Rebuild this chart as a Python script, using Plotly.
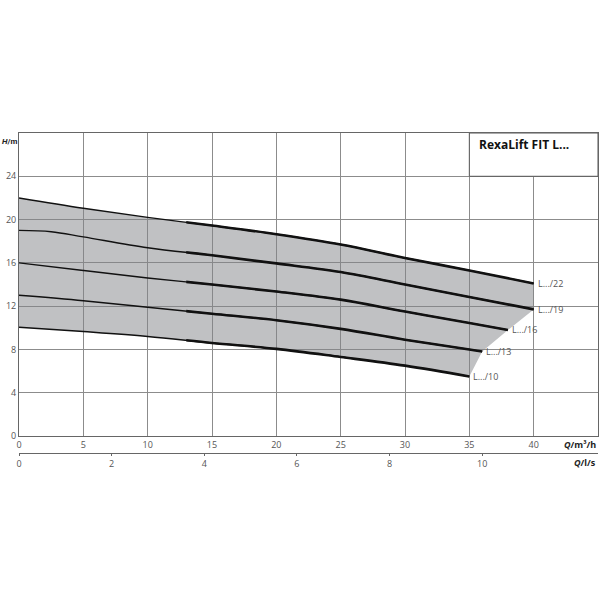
import plotly.graph_objects as go

# pump curves: Q in m3/h, H in m
q22 = [0, 5, 10, 15, 20, 25, 30, 35, 40]
h22 = [22.0, 21.05, 20.2, 19.45, 18.65, 17.7, 16.45, 15.3, 14.1]
q19 = [0, 2.5, 5, 10, 15, 20, 25, 30, 35, 40]
h19 = [19.0, 18.88, 18.4, 17.4, 16.7, 15.95, 15.15, 14.0, 12.85, 11.7]
q16 = [0, 5, 10, 15, 20, 25, 30, 35, 38]
h16 = [16.0, 15.3, 14.6, 14.0, 13.35, 12.6, 11.5, 10.45, 9.8]
q13 = [0, 5, 10, 15, 20, 25, 30, 35, 36]
h13 = [13.0, 12.5, 11.9, 11.3, 10.7, 9.9, 8.9, 8.0, 7.8]
q10 = [0, 5, 10, 15, 20, 25, 30, 35]
h10 = [10.05, 9.65, 9.2, 8.6, 8.05, 7.3, 6.5, 5.5]

curves = [("L.../22", q22, h22), ("L.../19", q19, h19), ("L.../16", q16, h16),
          ("L.../13", q13, h13), ("L.../10", q10, h10)]

x_ticks = [0, 5, 10, 15, 20, 25, 30, 35, 40]
y_ticks = [0, 4, 8, 12, 16, 20, 24]
ls_ticks = [0, 2, 4, 6, 8, 10]
title = "RexaLift FIT L..."
Q_MAX, H_MAX = 45, 28
THICK_FROM = 13  # start of the bold (preferred) part of every curve

TXT = "#555555"
GRID = "#8c8c8c"
FONT = "Open Sans, DejaVu Sans, sans-serif"

fig = go.Figure()

# grey operating field: top curve, right envelope through curve ends, bottom curve back.
# semi-transparent so the grid stays visible through it, as in the original
env_q = q22 + [c[1][-1] for c in curves[1:]] + q10[::-1][1:]
env_h = h22 + [c[2][-1] for c in curves[1:]] + h10[::-1][1:]
fig.add_trace(go.Scatter(x=env_q, y=env_h, mode="lines", fill="toself",
                         fillcolor="rgba(130,132,136,0.5)", line=dict(width=0), hoverinfo="skip",
                         showlegend=False))

for name, q, h in curves:
    # thin over the whole range
    fig.add_trace(go.Scatter(x=q, y=h, mode="lines", line=dict(color="#111111", width=1.4, shape="spline"),
                             hoverinfo="skip", showlegend=False))
    # bold part, clipped by a hidden subplot whose domain starts at THICK_FROM
    fig.add_trace(go.Scatter(x=q, y=h, mode="lines", xaxis="x3", yaxis="y3",
                             line=dict(color="#111111", width=2.6, shape="spline"),
                             hoverinfo="skip", showlegend=False))
    fig.add_annotation(x=q[-1], y=h[-1], text=name, showarrow=False, xanchor="left",
                       xshift=2, font=dict(size=9, color=TXT, family=FONT))

# dummy trace so the l/s axis is drawn
fig.add_trace(go.Scatter(x=[0], y=[0], xaxis="x2", mode="markers", marker=dict(opacity=0),
                         hoverinfo="skip", showlegend=False))

# title box
fig.add_shape(type="rect", x0=35, x1=Q_MAX, y0=24, y1=H_MAX, xref="x", yref="y",
              fillcolor="white", line=dict(color="#555555", width=1), layer="above")
fig.add_annotation(x=35, y=26.9, xref="x", yref="y", text="<b>" + title + "</b>", showarrow=False,
                   xanchor="left", xshift=8, font=dict(size=12, color="#111111", family=FONT))

bot = (453 - 436) / 320
fig.add_annotation(x=0, y=H_MAX, xref="paper", yref="y", text="<b><i>H</i>/m</b>", showarrow=False,
                   xanchor="left", yanchor="top", xshift=-19, yshift=-2,
                   font=dict(size=8, color="#222222", family="Roboto, sans-serif"))
fig.add_annotation(x=1, y=bot / 2, xref="paper", yref="paper", text="<b><i>Q</i>/m³/h</b>",
                   showarrow=False, xanchor="right", yanchor="middle",
                   font=dict(size=9, color="#222222", family=FONT))
fig.add_annotation(x=1, y=-bot / 2 - 0.002, xref="paper", yref="paper", text="<b><i>Q</i>/l/s</b>",
                   showarrow=False, xanchor="right", yanchor="middle",
                   font=dict(size=9, color="#222222", family=FONT))

fig.update_layout(
    width=600, height=600, margin=dict(l=19, r=2, t=133, b=147),
    plot_bgcolor="rgba(0,0,0,0)", paper_bgcolor="white", showlegend=False,
    font=dict(family=FONT, size=9, color=TXT),
    xaxis=dict(range=[0, Q_MAX], tickvals=x_ticks, showgrid=True, gridcolor=GRID, gridwidth=1,
               showline=True, linecolor="#666666", mirror=True, zeroline=False, ticks="",
               ticklabelstandoff=0, automargin=False, tickfont=dict(size=9, color=TXT)),
    yaxis=dict(range=[0, H_MAX], domain=[bot, 1], tickvals=y_ticks, showgrid=True, gridcolor=GRID,
               showline=True, linecolor="#666666", mirror=True, zeroline=False, ticks="",
               automargin=False, tickfont=dict(size=9, color=TXT)),
    xaxis2=dict(range=[0, Q_MAX / 3.6], tickvals=ls_ticks, overlaying="x", anchor="free", position=0,
                side="bottom", showgrid=False, zeroline=False, showline=True, linecolor="#666666",
                ticks="outside", ticklen=2, tickcolor="#666666", automargin=False,
                tickfont=dict(size=9, color=TXT)),
    xaxis3=dict(range=[THICK_FROM, Q_MAX], domain=[THICK_FROM / Q_MAX, 1], anchor="y3",
                visible=False, showgrid=False, zeroline=False),
    yaxis3=dict(range=[0, H_MAX], domain=[bot, 1], anchor="x3",
                visible=False, showgrid=False, zeroline=False),
)

# the page's default 8px body margin would shift the figure off the window
fig.write_html("out.html", config={"displayModeBar": False},
               post_script="document.body.style.margin='0';")
